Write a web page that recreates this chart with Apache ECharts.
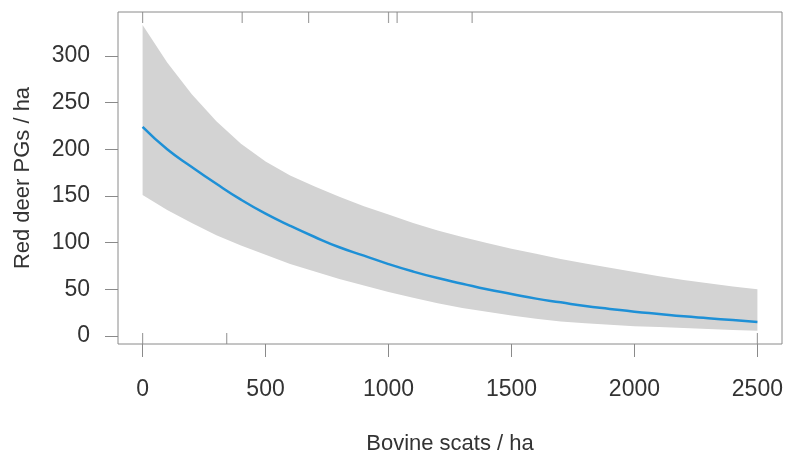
<!DOCTYPE html>
<html>
<head>
<meta charset="UTF-8">
<title>Red deer PGs vs bovine scats</title>
<script src="https://cdn.jsdelivr.net/npm/echarts@6/dist/echarts.min.js"></script>
<style>
  html, body { margin: 0; padding: 0; background: #fff; }
  #main { width: 785px; height: 455px; }
</style>
</head>
<body>
<div id="main"></div>
<script>
// values
var scats  = [0, 100, 200, 300, 400, 500, 600, 700, 800, 900, 1000, 1100, 1200,
              1300, 1400, 1500, 1600, 1700, 1800, 1900, 2000, 2100, 2200, 2300, 2400, 2500];
var fitted = [224, 200, 181, 163, 146, 131, 118, 106, 95, 86, 77, 69, 62,
              56, 50, 45, 40, 36, 32, 29, 26, 23.5, 21, 19, 17, 15];
var upper  = [333, 293, 259, 230, 206, 187, 172, 160, 149, 139, 130, 121, 113,
              106, 99.5, 93.5, 88, 82.5, 77.5, 73, 68.5, 64, 60, 56.5, 53, 50];
var lower  = [151, 135, 121, 108, 97, 87, 77, 69, 61, 54, 47, 41, 35,
              30, 26, 22, 18.5, 15.5, 13.5, 12, 10.5, 9.5, 8.5, 7.5, 6.5, 5.5];
var rugTop    = [0, 405, 675, 1000, 1035, 1340];
var rugBottom = [0, 342, 2500];
var xTicks = [0, 500, 1000, 1500, 2000, 2500];
var yTicks = [0, 50, 100, 150, 200, 250, 300];

var xMin = -100, xMax = 2600;
var yMin = -8.6, yMax = 347;

var font = "'Liberation Sans', Arial, sans-serif";
var grey = '#8a8a8a';

function pairs(xs, ys) {
  return xs.map(function (x, i) { return [x, ys[i]]; });
}

// confidence band as one polygon: upper edge left->right, lower edge back
function renderBand(params, api) {
  var pts = [];
  for (var i = 0; i < scats.length; i++) pts.push(api.coord([scats[i], upper[i]]));
  for (var j = scats.length - 1; j >= 0; j--) pts.push(api.coord([scats[j], lower[j]]));
  return {
    type: 'polygon',
    shape: { points: pts },
    style: { fill: '#d3d3d3' }
  };
}

var chart = echarts.init(document.getElementById('main'));
chart.setOption({
  animation: false,
  backgroundColor: '#fff',
  grid: {
    left: 118, right: 3, top: 12, bottom: 111,
    show: true, borderColor: grey, borderWidth: 1,
    outerBoundsMode: 'none'
  },
  xAxis: {
    type: 'value', min: xMin, max: xMax,
    name: 'Bovine scats / ha', nameLocation: 'middle', nameGap: 89,
    nameTextStyle: { fontFamily: font, fontSize: 22, color: '#333' },
    axisLine: { show: false, onZero: false },
    axisTick: { show: true, inside: false, length: 13, customValues: xTicks,
                lineStyle: { color: grey, width: 1 } },
    axisLabel: { customValues: xTicks, margin: 34, fontFamily: font, fontSize: 23, color: '#333',
                 formatter: function (v) { return String(v); } },
    splitLine: { show: false }
  },
  yAxis: {
    type: 'value', min: yMin, max: yMax,
    name: 'Red deer PGs / ha', nameLocation: 'middle', nameGap: 84,
    nameTextStyle: { fontFamily: font, fontSize: 22, color: '#333' },
    axisLine: { show: false, onZero: false },
    axisTick: { show: true, inside: false, length: 13, customValues: yTicks,
                lineStyle: { color: grey, width: 1 } },
    axisLabel: { customValues: yTicks, margin: 28, fontFamily: font, fontSize: 23, color: '#333',
                 formatter: function (v) { return String(v); } },
    splitLine: { show: false }
  },
  series: [
    {
      name: 'band', type: 'custom', silent: true,
      renderItem: renderBand,
      data: [[0, 0]]
    },
    {
      name: 'fitted', type: 'line', symbol: 'none', smooth: true,
      lineStyle: { color: '#1e90d6', width: 2.5 },
      data: pairs(scats, fitted)
    },
    {
      name: 'rugTop', type: 'scatter', clip: false, silent: true,
      symbol: 'rect', symbolSize: [1.2, 11], symbolOffset: [0, 5.5],
      itemStyle: { color: grey },
      data: rugTop.map(function (x) { return [x, yMax]; })
    },
    {
      name: 'rugBottom', type: 'scatter', clip: false, silent: true,
      symbol: 'rect', symbolSize: [1.2, 11], symbolOffset: [0, -5.5],
      itemStyle: { color: grey },
      data: rugBottom.map(function (x) { return [x, yMin]; })
    }
  ]
});
</script>
</body>
</html>
